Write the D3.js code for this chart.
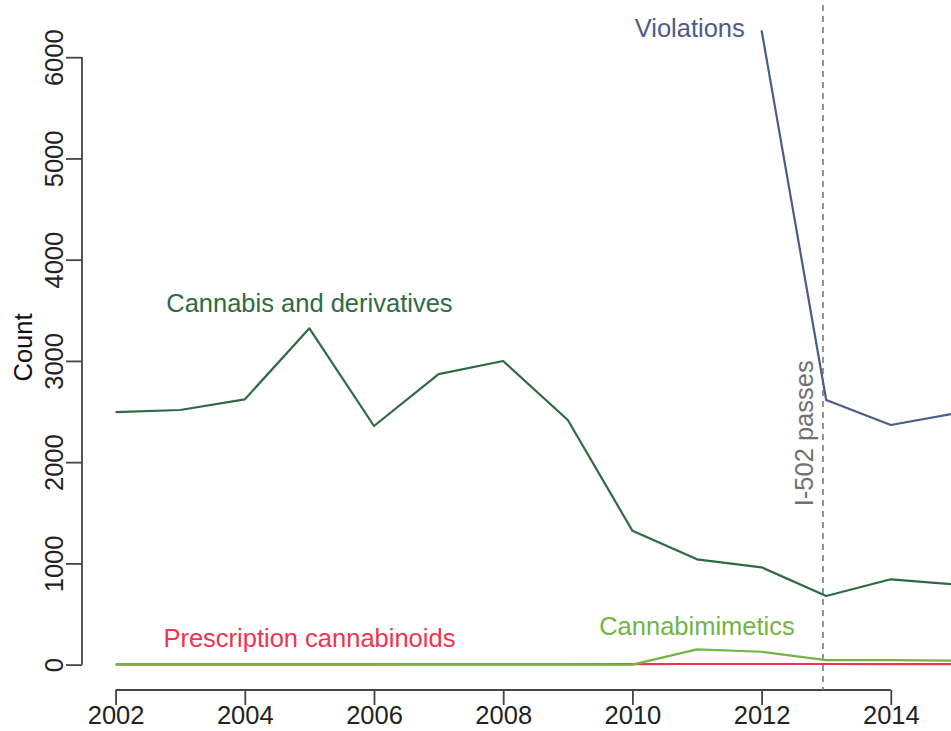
<!DOCTYPE html>
<html>
<head>
<meta charset="utf-8">
<script src="https://cdn.jsdelivr.net/npm/d3@7/dist/d3.min.js"></script>
<style>
  html, body { margin: 0; padding: 0; background: #fff; }
  svg { display: block; font-family: "Liberation Sans", Arial, sans-serif; }
</style>
</head>
<body>
<svg id="chart" width="951" height="731"></svg>
<script>
// Yearly counts, Washington State
const years = [2002, 2003, 2004, 2005, 2006, 2007, 2008, 2009, 2010, 2011, 2012, 2013, 2014, 2015];
const cannabisDerivatives = [2495, 2515, 2620, 3322, 2357, 2870, 2999, 2416, 1323, 1040, 961, 678, 843, 792];
const prescriptionCannabinoids = [2, 2, 3, 3, 3, 4, 4, 4, 5, 6, 6, 6, 5, 5];
const cannabimimetics = [0, 0, 0, 0, 0, 0, 0, 0, 0, 151, 127, 45, 45, 40];
const violationYears = [2012, 2013, 2014, 2015];
const violations = [6265, 2614, 2367, 2483];

const xTicks = [2002, 2004, 2006, 2008, 2010, 2012, 2014];
const yTicks = [0, 1000, 2000, 3000, 4000, 5000, 6000];

const eventYear = 2012.95;
const eventLabel = "I-502 passes";

const series = [
  { name: "Prescription cannabinoids", x: years, y: prescriptionCannabinoids, color: "#f0344f" },
  { name: "Cannabimimetics", x: years, y: cannabimimetics, color: "#72b544" },
  { name: "Cannabis and derivatives", x: years, y: cannabisDerivatives, color: "#2e6a43" },
  { name: "Violations", x: violationYears, y: violations, color: "#4c5b8c" }
];

// Series labels placed in data space next to their lines
const labels = [
  { text: "Cannabis and derivatives", year: 2005, value: 3483, anchor: "middle", color: "#2e6a43" },
  { text: "Prescription cannabinoids", year: 2005, value: 174, anchor: "middle", color: "#f0344f" },
  { text: "Cannabimimetics", year: 2011, value: 292, anchor: "middle", color: "#72b544" },
  { text: "Violations", year: 2011.74, value: 6199, anchor: "end", color: "#4c5b8c" }
];

const svg = d3.select("#chart");
const fontSize = 25.5;

// R-style 4% padding around the data range
const allX = years.concat(violationYears);
const allY = cannabisDerivatives.concat(prescriptionCannabinoids, cannabimimetics, violations);
const [x0, x1] = d3.extent(allX);
const [y0, y1] = d3.extent(allY);
const xPad = (x1 - x0) * 0.04, yPad = (y1 - y0) * 0.04;

const plot = { left: 82, right: 989, top: 5, bottom: 690 };

const x = d3.scaleLinear().domain([x0 - xPad, x1 + xPad]).range([plot.left, plot.right]);
const y = d3.scaleLinear().domain([y0 - yPad, y1 + yPad]).range([plot.bottom, plot.top]);

const axisColor = "#444";
const textColor = "#222";

// x axis: line spans first to last tick only
const xAxis = svg.append("g").attr("transform", `translate(0,${plot.bottom})`)
  .call(d3.axisBottom(x).tickValues(xTicks).tickFormat(d3.format("d")).tickSize(15).tickPadding(5));
xAxis.select(".domain").remove();
xAxis.append("line")
  .attr("x1", x(xTicks[0])).attr("x2", x(xTicks[xTicks.length - 1]))
  .attr("stroke", axisColor).attr("stroke-width", 1.8);
xAxis.selectAll(".tick line").attr("stroke", axisColor).attr("stroke-width", 1.8);
xAxis.selectAll(".tick text").attr("fill", textColor).attr("font-size", fontSize)
  .attr("dy", null).attr("y", 34);

// y axis with labels running parallel to the axis
const yAxis = svg.append("g").attr("transform", `translate(${plot.left},0)`)
  .call(d3.axisLeft(y).tickValues(yTicks).tickFormat(d3.format("d")).tickSize(16));
yAxis.select(".domain").remove();
yAxis.append("line")
  .attr("y1", y(yTicks[0])).attr("y2", y(yTicks[yTicks.length - 1]))
  .attr("stroke", axisColor).attr("stroke-width", 1.8);
yAxis.selectAll(".tick line").attr("stroke", axisColor).attr("stroke-width", 1.8);
yAxis.selectAll(".tick text")
  .attr("fill", textColor).attr("font-size", fontSize)
  .attr("x", null).attr("dy", null)
  .attr("text-anchor", "middle")
  .attr("transform", "translate(-19,0) rotate(-90)");

// y axis title
svg.append("text")
  .attr("transform", `translate(32,${(plot.top + plot.bottom) / 2}) rotate(-90)`)
  .attr("text-anchor", "middle")
  .attr("font-size", fontSize).attr("fill", "#111")
  .text("Count");

// event marker
svg.append("line")
  .attr("x1", x(eventYear)).attr("x2", x(eventYear))
  .attr("y1", plot.top).attr("y2", plot.bottom)
  .attr("stroke", "#7a7a7a").attr("stroke-width", 1.6)
  .attr("stroke-dasharray", "6,5");
svg.append("text")
  .attr("transform", `translate(${x(eventYear) - 10},${y(2285)}) rotate(-90)`)
  .attr("text-anchor", "middle")
  .attr("font-size", fontSize).attr("fill", "#707070")
  .text(eventLabel);

// series lines
const line = d3.line().x(d => x(d[0])).y(d => y(d[1]));
series.forEach(s => {
  svg.append("path")
    .datum(d3.zip(s.x, s.y))
    .attr("d", line)
    .attr("fill", "none")
    .attr("stroke", s.color)
    .attr("stroke-width", 2.2)
    .attr("stroke-linejoin", "round");
});

// series labels
labels.forEach(l => {
  svg.append("text")
    .attr("x", x(l.year)).attr("y", y(l.value))
    .attr("text-anchor", l.anchor)
    .attr("font-size", fontSize).attr("fill", l.color)
    .text(l.text);
});
</script>
</body>
</html>
